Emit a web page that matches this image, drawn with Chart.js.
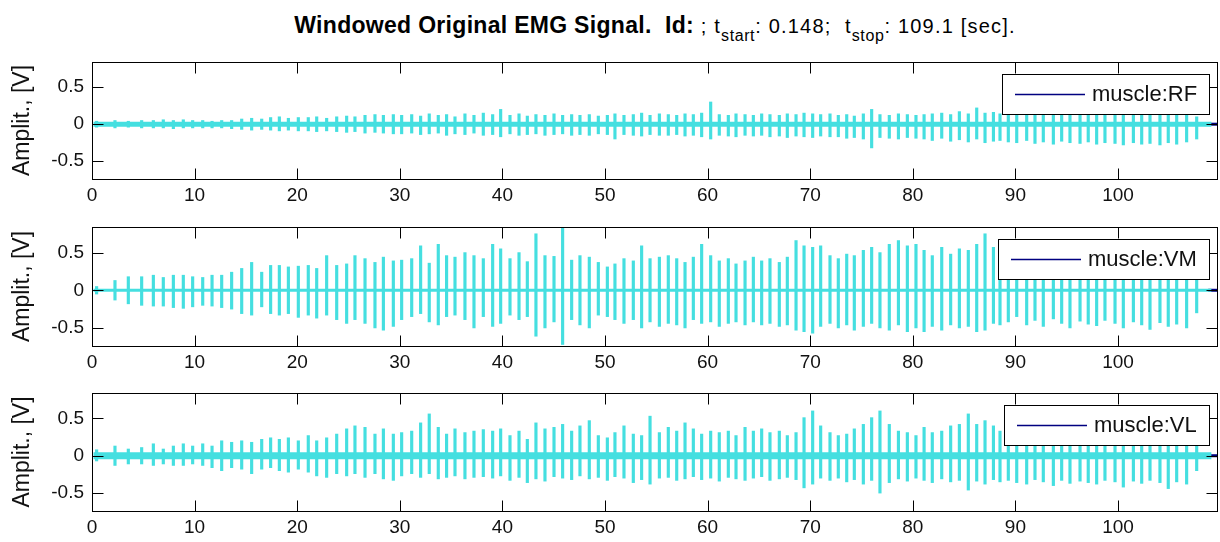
<!DOCTYPE html>
<html>
<head>
<meta charset="utf-8">
<script src="https://cdn.jsdelivr.net/npm/chart.js@4.4.1/dist/chart.umd.min.js"></script>
<style>
  body { margin: 0; background: #fff; width: 1220px; height: 542px; overflow: hidden; position: relative;
         font-family: "Liberation Sans", Arial, sans-serif; color: #000; }
  #title { position: absolute; top: 14px; left: 0; width: 1310px; text-align: center; white-space: nowrap;
           font-size: 20px; line-height: 22px; letter-spacing: 1.2px; }
  #title b { font-size: 23px; letter-spacing: 0.3px; }
  #title sub { font-size: 16px; vertical-align: -8px; line-height: 0; letter-spacing: 0.6px; }
  canvas { position: absolute; left: 0; }
</style>
</head>
<body>
<div id="title"><b>Windowed Original EMG Signal.&nbsp; Id:</b> ; t<sub>start</sub>: 0.148;&nbsp; t<sub>stop</sub>: 109.1 [sec].</div>
<canvas id="rf" width="1220" height="157" style="top:52px"></canvas>
<canvas id="vm" width="1220" height="159" style="top:217px"></canvas>
<canvas id="vl" width="1220" height="158" style="top:383px"></canvas>
<script>
// time window / axes
var tStart = 0.148;
var tStop = 109.1;
var xMax = 109.65;
var yMin = -0.74;
var yMax = 0.84;
var xTicks = [0, 10, 20, 30, 40, 50, 60, 70, 80, 90, 100];
var yTicks = [-0.5, 0, 0.5];

// burst centres [s] (same movement cycle for all muscles)
var burstTimes = [
  0.45, 2.24, 3.54, 4.84, 5.98, 6.95, 7.93, 8.9, 9.81, 10.79,
  11.7, 12.64, 13.61, 14.59, 15.56, 16.54, 17.41, 18.26, 19.14, 20.11,
  21.08, 21.9, 22.87, 23.85, 24.82, 25.63, 26.61, 27.58, 28.4, 29.37,
  30.18, 31.16, 32.03, 32.87, 33.75, 34.56, 35.38, 36.35, 37.23, 38.14,
  39.05, 39.83, 40.74, 41.62, 42.43, 43.27, 44.15, 45.03, 45.87, 46.75,
  47.56, 48.47, 49.35, 50.23, 50.97, 51.85, 52.76, 53.57, 54.39, 55.3,
  56.17, 56.99, 57.8, 58.61, 59.42, 60.3, 61.14, 62.02, 62.77, 63.65,
  64.46, 65.27, 66.08, 66.99, 67.77, 68.62, 69.4, 70.24, 71.02, 71.93,
  72.74, 73.56, 74.3, 75.18, 75.99, 76.8, 77.71, 78.6, 79.47, 80.31,
  81.1, 81.9, 82.82, 83.69, 84.54, 85.41, 86.23, 87.04, 87.86, 88.5,
  89.31, 90.13, 91.1, 91.91, 92.72, 93.7, 94.51, 95.32, 96.3, 97.1,
  97.92, 98.73, 99.71, 100.52, 101.5, 102.31, 103.12, 104.09, 104.9, 105.72,
  106.69, 107.67
];

// burst peaks [V]
var rfHigh = [
  0.04, 0.05, 0.04, 0.05, 0.05, 0.06, 0.05, 0.06, 0.05, 0.05,
  0.04, 0.05, 0.05, 0.07, 0.08, 0.07, 0.09, 0.1, 0.08, 0.09,
  0.09, 0.1, 0.08, 0.1, 0.11, 0.1, 0.12, 0.13, 0.12, 0.13,
  0.12, 0.13, 0.11, 0.14, 0.12, 0.13, 0.1, 0.14, 0.12, 0.15,
  0.13, 0.2, 0.12, 0.14, 0.11, 0.13, 0.12, 0.14, 0.12, 0.13,
  0.12, 0.13, 0.11, 0.12, 0.14, 0.12, 0.13, 0.15, 0.12, 0.14,
  0.13, 0.12, 0.14, 0.13, 0.15, 0.3, 0.13, 0.12, 0.14, 0.13,
  0.12, 0.14, 0.13, 0.12, 0.14, 0.13, 0.15, 0.14, 0.13, 0.14,
  0.12, 0.13, 0.11, 0.14, 0.2, 0.13, 0.12, 0.14, 0.13, 0.12,
  0.13, 0.14, 0.15, 0.13, 0.17, 0.14, 0.22, 0.15, 0.16, 0.14,
  0.15, 0.14, 0.13, 0.15, 0.14, 0.13, 0.15, 0.14, 0.15, 0.13,
  0.14, 0.15, 0.13, 0.14, 0.15, 0.13, 0.14, 0.15, 0.13, 0.14,
  0.12, 0.1
];
var rfLow = [
  -0.04, -0.05, -0.04, -0.05, -0.05, -0.05, -0.06, -0.05, -0.05, -0.05,
  -0.05, -0.05, -0.06, -0.07, -0.08, -0.07, -0.08, -0.09, -0.08, -0.09,
  -0.09, -0.1, -0.09, -0.1, -0.11, -0.1, -0.12, -0.11, -0.12, -0.13,
  -0.13, -0.12, -0.14, -0.13, -0.12, -0.15, -0.13, -0.14, -0.12, -0.15,
  -0.14, -0.17, -0.13, -0.15, -0.14, -0.13, -0.15, -0.14, -0.13, -0.15,
  -0.14, -0.15, -0.13, -0.14, -0.2, -0.14, -0.15, -0.16, -0.14, -0.15,
  -0.15, -0.14, -0.16, -0.15, -0.17, -0.2, -0.15, -0.16, -0.17, -0.15,
  -0.16, -0.15, -0.17, -0.16, -0.18, -0.16, -0.17, -0.18, -0.16, -0.17,
  -0.17, -0.19, -0.18, -0.2, -0.32, -0.18, -0.19, -0.2, -0.18, -0.19,
  -0.2, -0.22, -0.19, -0.23, -0.21, -0.24, -0.2, -0.25, -0.23, -0.22,
  -0.24, -0.25, -0.22, -0.26, -0.24, -0.27, -0.23, -0.25, -0.26, -0.24,
  -0.27, -0.25, -0.26, -0.28, -0.25, -0.27, -0.26, -0.28, -0.25, -0.27,
  -0.24, -0.2
];
var vmHigh = [
  0.05, 0.13, 0.18, 0.18, 0.2, 0.17, 0.2, 0.2, 0.18, 0.17,
  0.2, 0.2, 0.24, 0.29, 0.37, 0.24, 0.33, 0.33, 0.31, 0.32,
  0.33, 0.29, 0.46, 0.33, 0.35, 0.46, 0.42, 0.37, 0.44, 0.39,
  0.4, 0.42, 0.59, 0.36, 0.61, 0.46, 0.44, 0.5, 0.46, 0.42,
  0.61, 0.55, 0.42, 0.5, 0.38, 0.75, 0.46, 0.45, 0.83, 0.4,
  0.46, 0.44, 0.37, 0.31, 0.35, 0.42, 0.39, 0.59, 0.42, 0.44,
  0.46, 0.42, 0.37, 0.44, 0.61, 0.46, 0.39, 0.42, 0.35, 0.39,
  0.44, 0.39, 0.42, 0.37, 0.44, 0.66, 0.59, 0.57, 0.59, 0.46,
  0.42, 0.48, 0.46, 0.53, 0.57, 0.5, 0.61, 0.66, 0.59, 0.61,
  0.53, 0.46, 0.57, 0.48, 0.55, 0.53, 0.61, 0.75, 0.57, 0.5,
  0.48, 0.45, 0.5, 0.44, 0.47, 0.42, 0.46, 0.44, 0.48, 0.43,
  0.45, 0.47, 0.42, 0.46, 0.44, 0.43, 0.45, 0.41, 0.44, 0.42,
  0.4, 0.3
];
var vmLow = [
  -0.05, -0.13, -0.18, -0.2, -0.21, -0.21, -0.23, -0.24, -0.22, -0.2,
  -0.21, -0.23, -0.25, -0.31, -0.33, -0.22, -0.31, -0.33, -0.31, -0.36,
  -0.33, -0.37, -0.33, -0.39, -0.44, -0.39, -0.44, -0.5, -0.53, -0.48,
  -0.39, -0.35, -0.31, -0.42, -0.46, -0.35, -0.33, -0.39, -0.5, -0.35,
  -0.48, -0.44, -0.33, -0.39, -0.35, -0.61, -0.5, -0.42, -0.72, -0.39,
  -0.46, -0.5, -0.33, -0.35, -0.39, -0.44, -0.39, -0.5, -0.42, -0.48,
  -0.44, -0.46, -0.5, -0.39, -0.44, -0.42, -0.48, -0.44, -0.42, -0.46,
  -0.42, -0.46, -0.44, -0.48, -0.46, -0.53, -0.55, -0.57, -0.48, -0.44,
  -0.5, -0.46, -0.53, -0.48, -0.44, -0.5, -0.53, -0.46, -0.55, -0.5,
  -0.55, -0.48, -0.53, -0.46, -0.5, -0.48, -0.55, -0.53, -0.44, -0.46,
  -0.42, -0.35, -0.46, -0.4, -0.48, -0.38, -0.44, -0.5, -0.41, -0.45,
  -0.47, -0.4, -0.44, -0.5, -0.42, -0.46, -0.52, -0.43, -0.48, -0.45,
  -0.5, -0.3
];
var vlHigh = [
  0.08, 0.13, 0.09, 0.11, 0.16, 0.09, 0.13, 0.16, 0.13, 0.16,
  0.13, 0.2, 0.18, 0.2, 0.18, 0.22, 0.24, 0.22, 0.24, 0.2,
  0.27, 0.2, 0.24, 0.29, 0.36, 0.4, 0.38, 0.29, 0.36, 0.29,
  0.31, 0.33, 0.44, 0.56, 0.38, 0.29, 0.36, 0.31, 0.33, 0.35,
  0.33, 0.36, 0.27, 0.33, 0.22, 0.44, 0.36, 0.38, 0.42, 0.33,
  0.4, 0.47, 0.27, 0.24, 0.31, 0.4, 0.29, 0.27, 0.53, 0.31,
  0.38, 0.33, 0.44, 0.36, 0.29, 0.33, 0.31, 0.33, 0.27, 0.38,
  0.33, 0.36, 0.31, 0.33, 0.27, 0.31, 0.51, 0.6, 0.4, 0.31,
  0.27, 0.29, 0.36, 0.42, 0.51, 0.6, 0.42, 0.33, 0.31, 0.27,
  0.38, 0.31, 0.33, 0.4, 0.42, 0.56, 0.42, 0.47, 0.4, 0.33,
  0.36, 0.33, 0.38, 0.35, 0.31, 0.36, 0.34, 0.38, 0.32, 0.35,
  0.37, 0.33, 0.36, 0.34, 0.31, 0.35, 0.33, 0.36, 0.32, 0.34,
  0.3, 0.2
];
var vlLow = [
  -0.07, -0.13, -0.11, -0.11, -0.13, -0.11, -0.13, -0.13, -0.11, -0.13,
  -0.16, -0.2, -0.16, -0.18, -0.24, -0.18, -0.16, -0.2, -0.22, -0.18,
  -0.22, -0.27, -0.29, -0.24, -0.27, -0.24, -0.29, -0.24, -0.31, -0.33,
  -0.27, -0.24, -0.29, -0.24, -0.31, -0.29, -0.27, -0.31, -0.29, -0.28,
  -0.3, -0.27, -0.33, -0.29, -0.36, -0.31, -0.34, -0.28, -0.3, -0.32,
  -0.27, -0.31, -0.29, -0.33, -0.28, -0.3, -0.36, -0.32, -0.38, -0.3,
  -0.29, -0.33, -0.31, -0.28, -0.32, -0.3, -0.34, -0.29, -0.31, -0.33,
  -0.3, -0.28, -0.33, -0.31, -0.29, -0.32, -0.43, -0.38, -0.3, -0.33,
  -0.3, -0.35, -0.32, -0.38, -0.33, -0.5, -0.36, -0.31, -0.34, -0.3,
  -0.33, -0.36, -0.31, -0.35, -0.33, -0.46, -0.34, -0.38, -0.32, -0.35,
  -0.33, -0.36, -0.38, -0.32, -0.35, -0.4, -0.33, -0.37, -0.34, -0.36,
  -0.38, -0.33, -0.35, -0.42, -0.34, -0.37, -0.33, -0.36, -0.44, -0.35,
  -0.38, -0.2
];

var cyan = "#45dfe0";
var navy = "#000080";
var fontName = '"Liberation Sans", Arial, sans-serif';

// frame, inward ticks and boxed legend like the matlab axes
var axesDecor = {
    id: "axesDecor",
    afterDraw: function(chart) {
        var ctx = chart.ctx;
        var a = chart.chartArea;
        var x = chart.scales.x, y = chart.scales.y;
        var L = Math.round(a.left) + 0.5, R = Math.round(a.right) + 0.5;
        var T = Math.round(a.top) + 0.5, B = Math.round(a.bottom) + 0.5;
        ctx.save();
        ctx.strokeStyle = "#000";
        ctx.lineWidth = 1;
        ctx.beginPath();
        xTicks.forEach(function(v) {
            var px = Math.round(x.getPixelForValue(v)) + 0.5;
            ctx.moveTo(px, B); ctx.lineTo(px, B - 11);
            ctx.moveTo(px, T); ctx.lineTo(px, T + 11);
        });
        yTicks.forEach(function(v) {
            var py = Math.round(y.getPixelForValue(v)) + 0.5;
            ctx.moveTo(L, py); ctx.lineTo(L + 11, py);
            ctx.moveTo(R, py); ctx.lineTo(R - 11, py);
        });
        ctx.stroke();
        ctx.strokeRect(L, T, R - L, B - T);

        // legend
        var ds = chart.data.datasets.find(function(d) { return d.inLegend; });
        ctx.font = "22px " + fontName;
        var tw = ctx.measureText(ds.label).width;
        var right = Math.round(a.right) - 8, top = Math.round(a.top) + 12, h = 40;
        var left = Math.round(right - (13 + 70 + 7 + tw + 12));
        ctx.fillStyle = "#fff";
        ctx.fillRect(left, top, right - left, h);
        ctx.strokeRect(left + 0.5, top + 0.5, right - left, h);
        ctx.strokeStyle = ds.borderColor;
        ctx.lineWidth = 1.5;
        ctx.beginPath();
        ctx.moveTo(left + 13, top + h / 2 + 0.5);
        ctx.lineTo(left + 83, top + h / 2 + 0.5);
        ctx.stroke();
        ctx.fillStyle = "#111";
        ctx.textBaseline = "middle";
        ctx.fillText(ds.label, left + 90, top + h / 2 + 1);
        ctx.restore();
    }
};

function makeChart(id, name, hi, lo, band) {
    var bursts = burstTimes.map(function(t, i) { return {x: t, y: [lo[i], hi[i]]}; });
    return new Chart(document.getElementById(id), {
        type: "bar",
        data: {
            datasets: [
                {
                    label: name + " windowed",
                    data: bursts,
                    backgroundColor: cyan,
                    borderWidth: 0,
                    barThickness: 2.5,
                    order: 1
                },
                {
                    type: "line",
                    label: name + " baseline",
                    data: [{x: tStart, y: 0}, {x: tStop, y: 0}],
                    borderColor: cyan,
                    borderWidth: band,
                    borderCapStyle: "butt",
                    pointRadius: 0,
                    order: 2
                },
                {
                    type: "line",
                    label: name,
                    inLegend: true,
                    data: [{x: tStop - 0.3, y: 0}, {x: xMax, y: 0}],
                    borderColor: navy,
                    borderWidth: 3,
                    borderCapStyle: "butt",
                    pointRadius: 0,
                    order: 3
                }
            ]
        },
        options: {
            responsive: false,
            animation: false,
            layout: {padding: {top: 10, right: 3, left: 0, bottom: 0}},
            plugins: {legend: {display: false}, tooltip: {enabled: false}},
            scales: {
                x: {
                    type: "linear",
                    min: 0,
                    max: xMax,
                    offset: false,
                    grid: {display: false, drawTicks: false, offset: false},
                    border: {display: false},
                    ticks: {autoSkip: false, maxRotation: 0, padding: 5, color: "#111",
                            font: {family: fontName, size: 19}},
                    afterBuildTicks: function(s) { s.ticks = xTicks.map(function(v) { return {value: v}; }); },
                    afterFit: function(s) { s.height = 30; s.paddingRight = 0; }
                },
                y: {
                    min: yMin,
                    max: yMax,
                    grid: {display: false, drawTicks: false},
                    border: {display: false},
                    ticks: {padding: 8, color: "#111", font: {family: fontName, size: 19}},
                    afterBuildTicks: function(s) { s.ticks = yTicks.map(function(v) { return {value: v}; }); },
                    afterFit: function(s) { s.width = 92; s.paddingTop = 0; s.paddingBottom = 0; },
                    title: {display: true, text: "Amplit., [V]", color: "#111",
                            font: {family: fontName, size: 23}, padding: {top: 9, bottom: 0}}
                }
            }
        },
        plugins: [axesDecor]
    });
}

makeChart("rf", "muscle:RF", rfHigh, rfLow, 5);
makeChart("vm", "muscle:VM", vmHigh, vmLow, 3);
makeChart("vl", "muscle:VL", vlHigh, vlLow, 7);
</script>
</body>
</html>
